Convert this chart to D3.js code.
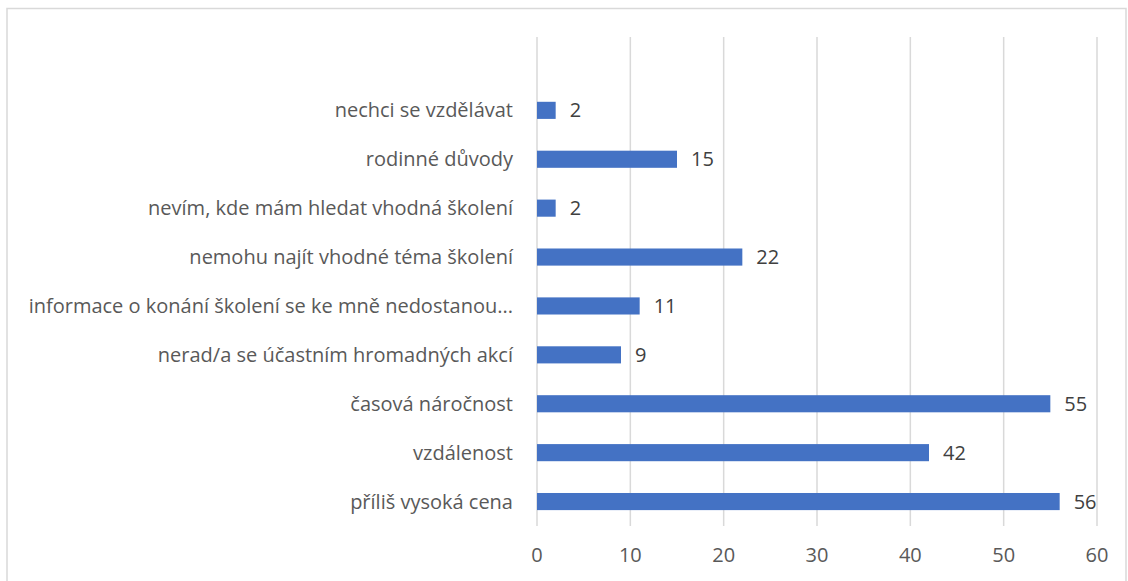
<!DOCTYPE html>
<html>
<head>
<meta charset="utf-8">
<script src="https://cdn.jsdelivr.net/npm/d3@7"></script>
<style>
  body { margin: 0; background: #fff; }
  text { font-family: "Open Sans", "Noto Sans", sans-serif; }
</style>
</head>
<body>
<svg id="chart"></svg>
<script>
// categories from bottom to top, the top one is empty in the source chart
const categories = ['příliš vysoká cena', 'vzdálenost', 'časová náročnost',
  'nerad/a se účastním hromadných akcí', 'informace o konání školení se ke mně nedostanou...',
  'nemohu najít vhodné téma školení', 'nevím, kde mám hledat vhodná školení',
  'rodinné důvody', 'nechci se vzdělávat', '']
const values = [56, 42, 55, 9, 11, 22, 2, 15, 2, null]
const ticks = [0, 10, 20, 30, 40, 50, 60]

const W = 1128, H = 581
const margin = {top: 37, right: 31, bottom: 55, left: 537}
const width = W - margin.left - margin.right
const height = H - margin.top - margin.bottom

const svg = d3.select('#chart')
  .attr('width', W)
  .attr('height', H)

// chart border
svg.append('rect')
  .attr('x', 7).attr('y', 8.5)
  .attr('width', 1119).attr('height', 600)
  .attr('fill', 'none')
  .attr('stroke', '#d9d9d9')
  .attr('stroke-width', 1.5)

const g = svg.append('g')
  .attr('transform', 'translate(' + margin.left + ',' + margin.top + ')')

const x = d3.scaleLinear().domain([0, 60]).range([0, width])
const y = d3.scaleBand()
  .domain(categories.map((c, i) => i))
  .range([height, 0])
  .paddingInner(0.65)
  .paddingOuter(0.325)

// gridlines
g.selectAll('.grid')
  .data(ticks)
  .enter().append('line')
  .attr('x1', d => x(d)).attr('x2', d => x(d))
  .attr('y1', 0).attr('y2', height)
  .attr('stroke', '#d9d9d9')
  .attr('stroke-width', 1.5)

// x tick labels
g.selectAll('.tick-label')
  .data(ticks)
  .enter().append('text')
  .attr('x', d => x(d))
  .attr('y', height + 36)
  .attr('text-anchor', 'middle')
  .attr('font-size', '20px')
  .attr('fill', '#595959')
  .text(d => d)

const data = categories.map((c, i) => ({cat: c, i: i, v: values[i]}))

// bars
g.selectAll('.bar')
  .data(data.filter(d => d.v != null))
  .enter().append('rect')
  .attr('x', x(0))
  .attr('y', d => y(d.i))
  .attr('width', d => x(d.v) - x(0))
  .attr('height', y.bandwidth())
  .attr('fill', '#4472c4')

// value labels
g.selectAll('.val')
  .data(data.filter(d => d.v != null))
  .enter().append('text')
  .attr('x', d => x(d.v) + 14)
  .attr('y', d => y(d.i) + y.bandwidth() / 2)
  .attr('dy', '0.35em')
  .attr('font-size', '20px')
  .attr('fill', '#404040')
  .text(d => d.v)

// category labels
g.selectAll('.cat')
  .data(data)
  .enter().append('text')
  .attr('x', -24)
  .attr('y', d => y(d.i) + y.bandwidth() / 2)
  .attr('dy', '0.35em')
  .attr('text-anchor', 'end')
  .attr('font-size', '20px')
  .attr('fill', '#595959')
  .text(d => d.cat)
</script>
</body>
</html>
